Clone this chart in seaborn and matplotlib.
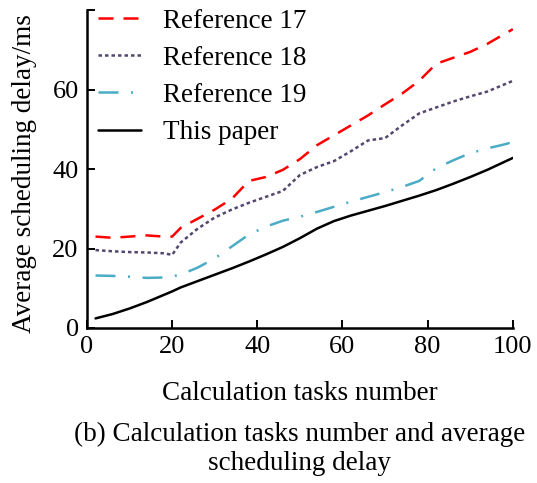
import matplotlib
matplotlib.use("Agg")
import matplotlib.pyplot as plt
import seaborn as sns
import pandas as pd

# Number of calculation tasks
tasks = [2, 6, 10, 14, 18, 20, 22, 26, 30, 34, 38, 42, 46, 50, 54, 58,
         62, 66, 70, 74, 78, 82, 86, 90, 94, 98, 100]

# Average scheduling delay (ms) for each method
ref17 = [23.0, 22.7, 23.0, 23.3, 23.0, 23.0, 25.2, 27.5, 29.8, 32.5, 37.0,
         38.0, 39.8, 42.5, 46.0, 48.5, 51.0, 53.5, 56.3, 59.0, 62.2, 66.5,
         68.0, 69.5, 71.5, 74.0, 75.2]
ref18 = [19.6, 19.3, 19.1, 19.0, 18.8, 18.4, 21.5, 25.0, 27.8, 29.8, 31.5,
         33.0, 34.5, 38.5, 40.5, 42.0, 44.5, 47.2, 47.8, 51.0, 54.0, 55.5,
         57.0, 58.3, 59.5, 61.3, 62.2]
ref19 = [13.2, 13.1, 12.9, 12.6, 12.7, 13.0, 13.4, 15.2, 17.5, 20.5, 23.5,
         25.5, 27.0, 28.0, 29.2, 30.5, 31.8, 33.0, 34.2, 35.5, 37.0, 40.2,
         42.2, 44.0, 45.2, 46.2, 46.8]
this_paper = [2.4, 3.5, 4.9, 6.5, 8.3, 9.2, 10.2, 11.8, 13.4, 15.0, 16.7,
              18.5, 20.4, 22.6, 25.0, 26.9, 28.3, 29.5, 30.7, 32.0, 33.3,
              34.7, 36.3, 38.0, 39.8, 41.8, 42.8]

series_names = ["Reference 17", "Reference 18", "Reference 19", "This paper"]
series_values = [ref17, ref18, ref19, this_paper]

xticks = [0, 20, 40, 60, 80, 100]
yticks = [0, 20, 40, 60, 80]
ytick_labels = ["0", "20", "40", "60", ""]

sns.set_theme(style="ticks")
plt.rcParams["font.family"] = ["Liberation Serif", "DejaVu Serif"]
plt.rcParams["text.color"] = "black"
plt.rcParams["axes.labelcolor"] = "black"
plt.rcParams["xtick.color"] = "black"
plt.rcParams["ytick.color"] = "black"

styles = {
    "Reference 17": dict(color="#ff0000", dashes=(6, 4)),
    "Reference 18": dict(color="#54476e", dashes=(1.4, 1.2)),
    "Reference 19": dict(color="#4bacc6", dashes=(8, 5, 0.8, 5)),
    "This paper": dict(color="#000000", dashes=None),
}

FS = 19.5

fig = plt.figure(figsize=(5.37, 4.83), dpi=100)
ax = fig.add_axes([0.162, 0.321, 0.793, 0.658])

for name, vals in zip(series_names, series_values):
    df = pd.DataFrame({"tasks": tasks, "delay": vals})
    st = styles[name]
    sns.lineplot(data=df, x="tasks", y="delay", ax=ax,
                 color=st["color"], linewidth=1.8, label=name)
    ln = ax.get_lines()[-1]
    if st["dashes"] is not None:
        ln.set_dashes(st["dashes"])

ax.set_xlim(0, 100)
ax.set_ylim(0, 80)
ax.set_xticks(xticks)
ax.set_yticks(yticks)
ax.set_yticklabels(ytick_labels)
ax.tick_params(direction="in", length=6, width=1.4, labelsize=19,
               colors="black", labelcolor="black")
ax.tick_params(axis="x", pad=6)
ax.tick_params(axis="y", pad=6)
for side in ["top", "right"]:
    ax.spines[side].set_visible(False)
for side in ["left", "bottom"]:
    ax.spines[side].set_linewidth(1.8)
    ax.spines[side].set_color("black")

ax.set_xlabel("")
ax.set_ylabel("")

leg = ax.legend(loc="upper left", frameon=False, fontsize=FS,
                handlelength=1.6, handletextpad=0.8, labelspacing=0.45,
                borderaxespad=0.0, borderpad=0.0,
                bbox_to_anchor=(0.025, 1.005))
for t in leg.get_texts():
    t.set_color("black")

fig.text(25 / 537, 1 - 174 / 483, "Average scheduling delay/ms",
         rotation=90, ha="center", va="center", fontsize=FS, color="black")
fig.text(300 / 537, 1 - 393 / 483, "Calculation tasks number",
         ha="center", va="center", fontsize=FS, color="black")
fig.text(300 / 537, 1 - 449 / 483,
         "(b) Calculation tasks number and average\nscheduling delay",
         ha="center", va="center", fontsize=FS, linespacing=1.2,
         color="black")

fig.savefig("out.png", dpi=100)
